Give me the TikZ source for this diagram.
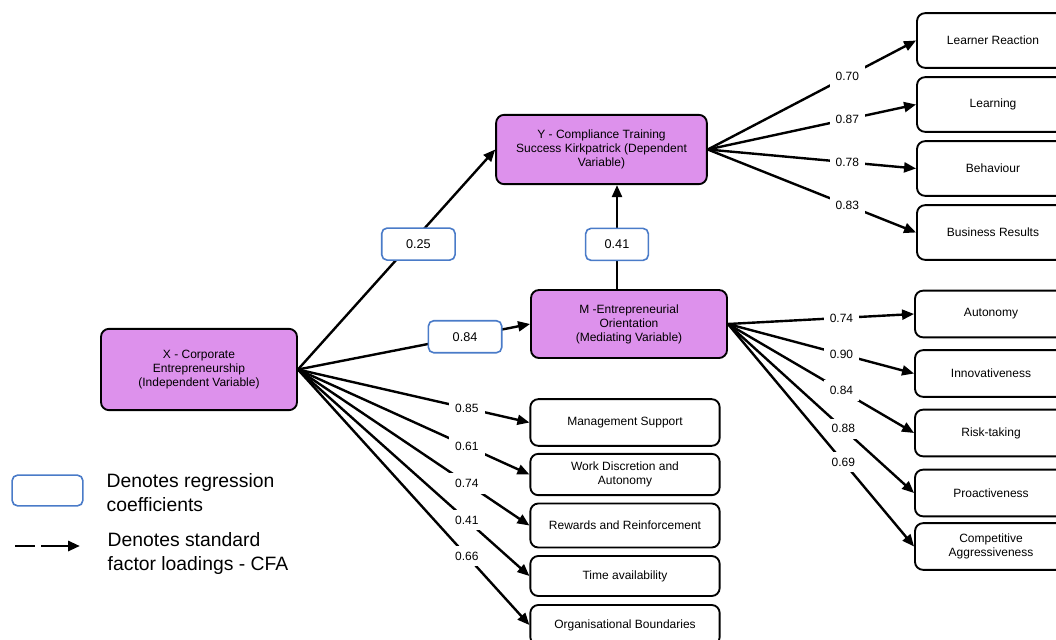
\documentclass[tikz,border=0pt]{standalone}
\usepackage{fontspec}
\setmainfont{Liberation Sans}
\definecolor{latentviolet}{HTML}{DD91EC}
\definecolor{coefblue}{HTML}{4A7BC8}
\usetikzlibrary{arrows.meta}

\begin{document}
\begin{tikzpicture}[
    x=0.75pt, y=-0.75pt,
    latent/.style={draw, line width=1.4pt, fill=latentviolet, rounded corners=6pt,
                   align=center, font=\fontsize{9}{10.5}\selectfont},
    item/.style={draw, line width=1.4pt, fill=white, rounded corners=6pt,
                 align=center, font=\fontsize{9}{10.5}\selectfont},
    coef/.style={draw=coefblue, line width=1.2pt, fill=white, rounded corners=4pt,
                 minimum width=55pt, minimum height=24pt, font=\fontsize{9.5}{11}\selectfont},
    lbl/.style={fill=white, inner sep=4.5pt, font=\fontsize{9}{10.5}\selectfont},
    legend/.style={align=left, font=\fontsize{14.5}{18}\selectfont},
    arr/.style={-{Triangle[length=9pt, width=7.5pt]}, line width=1.8pt}
  ]
  \useasboundingbox (0,0) rectangle (1056,639);

  % latent variables
  \node[latent, minimum width=147pt, minimum height=61pt] (x) at (199,369.5)
    {X - Corporate\\Entrepreneurship\\(Independent Variable)};
  \node[latent, minimum width=158pt, minimum height=52pt] (y) at (601.5,149.5)
    {Y - Compliance Training\\Success Kirkpatrick (Dependent\\Variable)};
  \node[latent, minimum width=147pt, minimum height=51pt] (m) at (629,324)
    {M -Entrepreneurial\\Orientation\\(Mediating Variable)};

  % Kirkpatrick levels
  \node[item, minimum width=114pt, minimum height=41pt] (lr) at (993,40.5) {Learner Reaction};
  \node[item, minimum width=114pt, minimum height=41pt] (ln) at (993,104.5) {Learning};
  \node[item, minimum width=114pt, minimum height=41pt] (bh) at (993,168.5) {Behaviour};
  \node[item, minimum width=114pt, minimum height=41pt] (br) at (993,232.5) {Business Results};

  % EO dimensions
  \node[item, minimum width=114pt, minimum height=35pt] (au) at (991,314) {Autonomy};
  \node[item, minimum width=114pt, minimum height=35pt] (in) at (991,373.5) {Innovativeness};
  \node[item, minimum width=114pt, minimum height=35pt] (rt) at (991,433) {Risk-taking};
  \node[item, minimum width=114pt, minimum height=35pt] (pa) at (991,493) {Proactiveness};
  \node[item, minimum width=114pt, minimum height=35pt] (ca) at (991,546.5) {Competitive\\Aggressiveness};

  % CE dimensions
  \node[item, minimum width=142pt, minimum height=35pt] (ms) at (625,422.5) {Management Support};
  \node[item, minimum width=142pt, minimum height=31pt] (wd) at (625,474.5) {Work Discretion and\\Autonomy};
  \node[item, minimum width=142pt, minimum height=33pt] (rr) at (625,525.5) {Rewards and Reinforcement};
  \node[item, minimum width=142pt, minimum height=30pt] (ta) at (625,576) {Time availability};
  \node[item, minimum width=142pt, minimum height=30pt] (ob) at (625,625) {Organisational Boundaries};

  % structural paths
  \coordinate (mid) at (617,0);
  \draw[arr] (x.east) -- node[coef, pos=0.57, xshift=6pt] {0.25} (y.west);
  \draw[arr] (x.east) -- node[coef, pos=0.72] {0.84} (m.west);
  \draw[arr] (mid |- m.north) -- node[coef, minimum width=47pt, pos=0.43] {0.41} (mid |- y.south);

  % loadings
  \draw[arr] (y.east) -- node[lbl, pos=0.67] {0.70} (lr.west);
  \draw[arr] (y.east) -- node[lbl, pos=0.67] {0.87} (ln.west);
  \draw[arr] (y.east) -- node[lbl, pos=0.67] {0.78} (bh.west);
  \draw[arr] (y.east) -- node[lbl, pos=0.67] {0.83} (br.west);

  \draw[arr] (m.east) -- node[lbl, pos=0.61] {0.74} (au.west);
  \draw[arr] (m.east) -- node[lbl, pos=0.61] {0.90} (in.west);
  \draw[arr] (m.east) -- node[lbl, pos=0.61] {0.84} (rt.west);
  \draw[arr] (m.east) -- node[lbl, pos=0.62] {0.88} (pa.west);
  \draw[arr] (m.east) -- node[lbl, pos=0.62] {0.69} (ca.west);

  \draw[arr] (x.east) -- node[lbl, pos=0.73] {0.85} (ms.west);
  \draw[arr] (x.east) -- node[lbl, pos=0.73] {0.61} (wd.west);
  \draw[arr] (x.east) -- node[lbl, pos=0.73] {0.74} (rr.west);
  \draw[arr] (x.east) -- node[lbl, pos=0.73] {0.41} (ta.west);
  \draw[arr] (x.east) -- node[lbl, pos=0.73] {0.66} (ob.west);

  % legend
  \node[coef, minimum width=53pt, minimum height=23pt] (keybox) at (47.5,490.5) {};
  \node[legend, anchor=west] (keycoef) at (102,493) {Denotes regression\\coefficients};
  \coordinate (keya) at (15,546);
  \coordinate (keyb) at (80,546);
  \draw[arr, line width=2.2pt, dash pattern=on 15pt off 4.5pt on 40pt off 4.5pt] (keya) -- (keyb);
  \node[legend, anchor=west] (keyload) at (103,553) {Denotes standard\\factor loadings - CFA};
\end{tikzpicture}
\end{document}
